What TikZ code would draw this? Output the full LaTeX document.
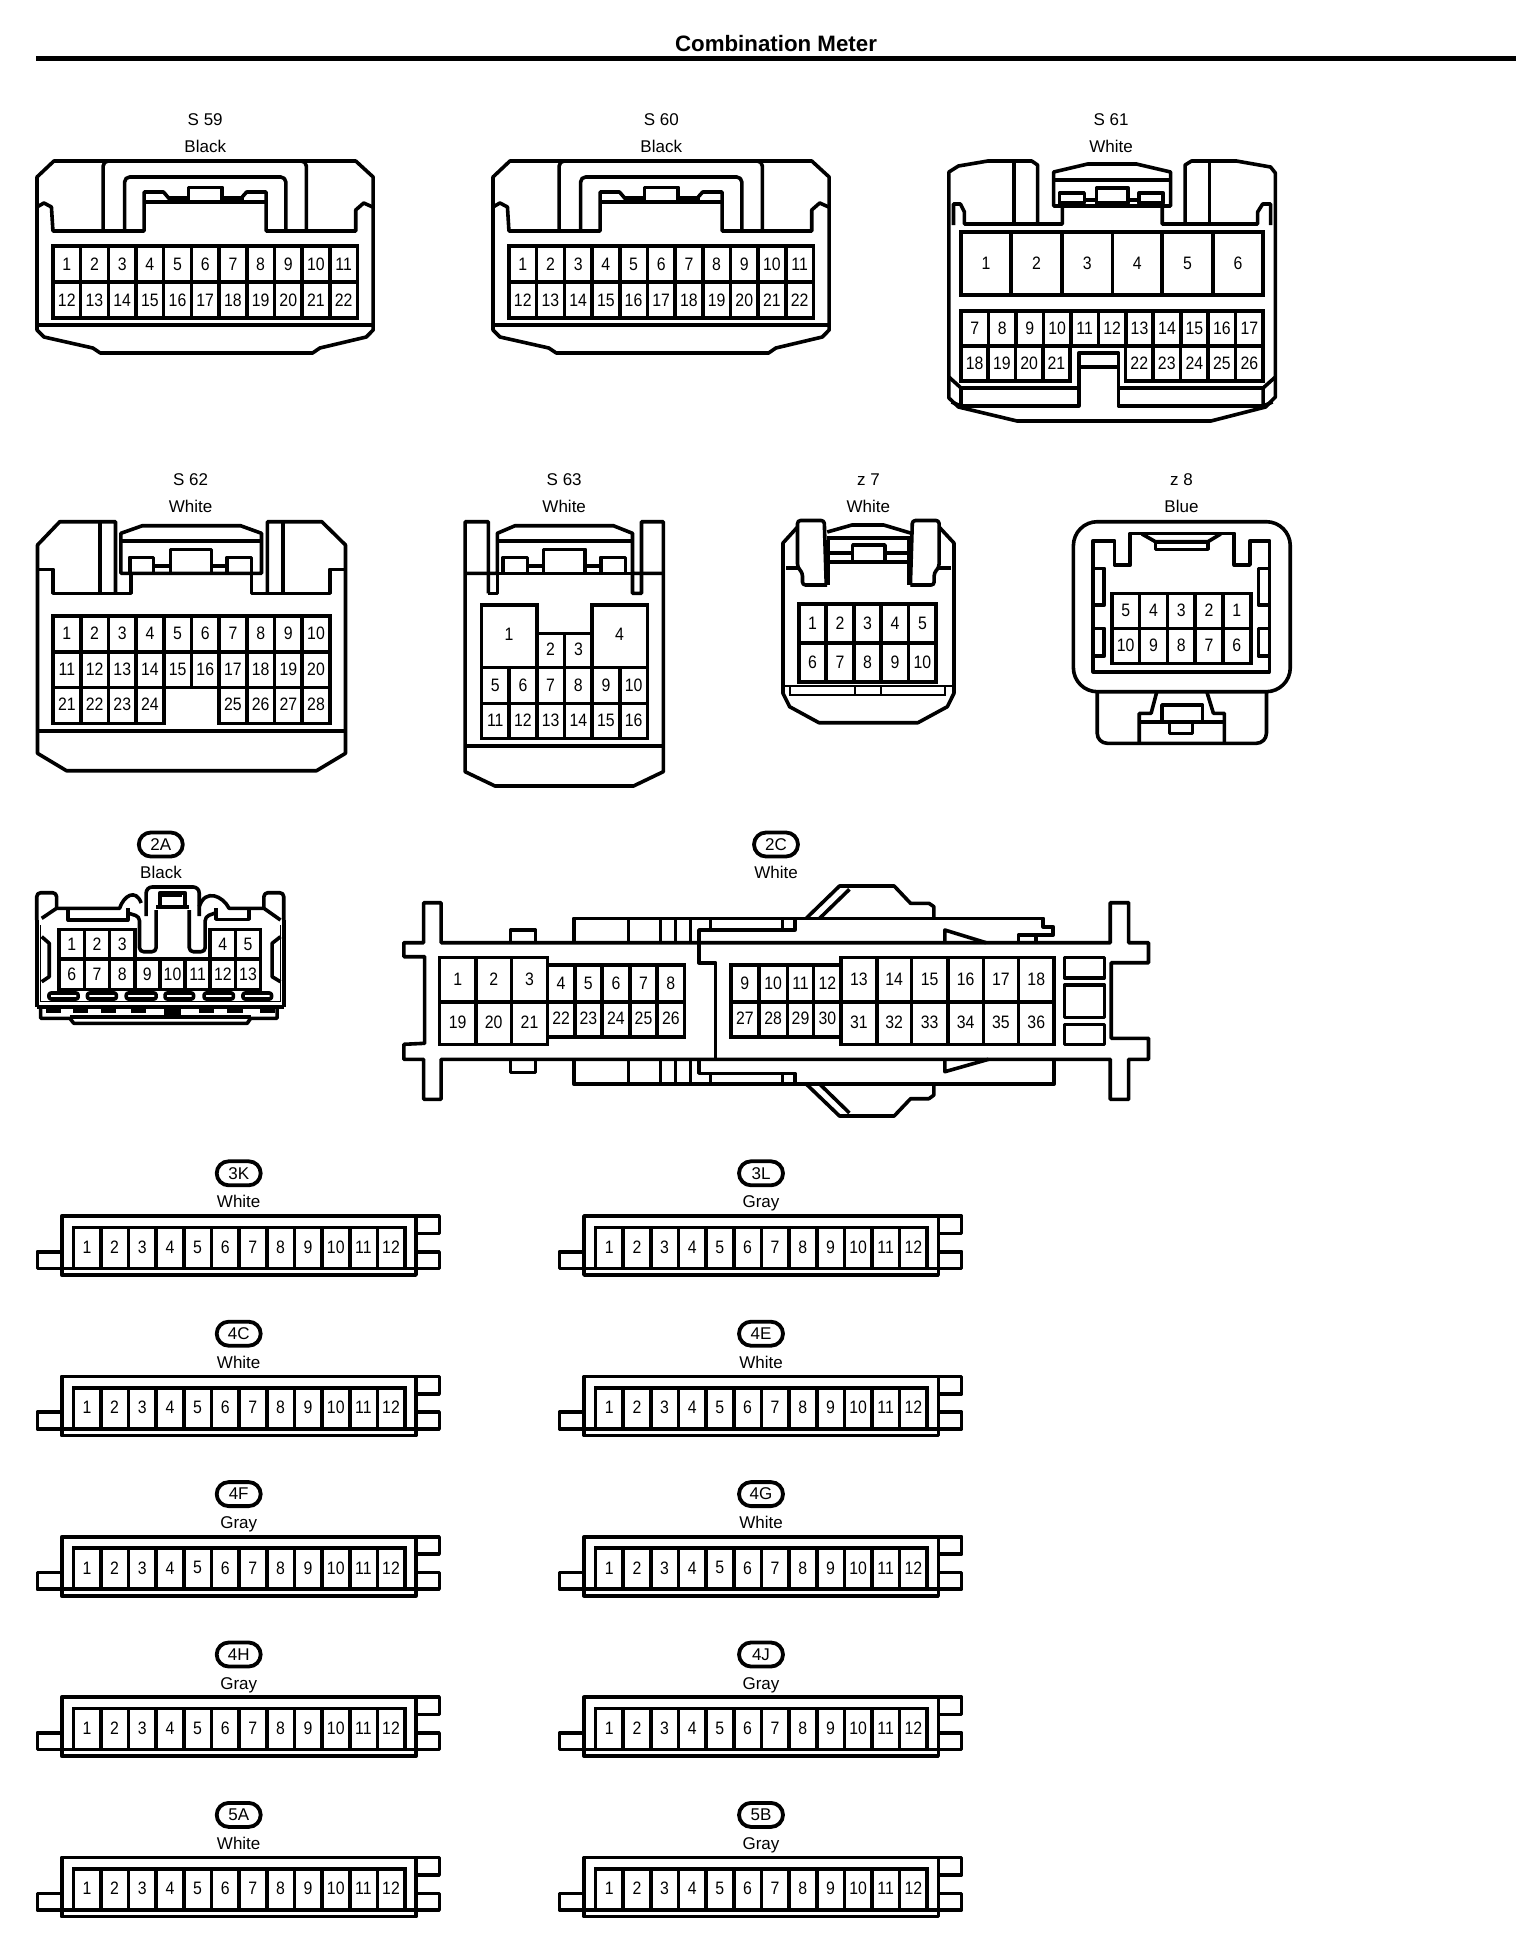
\documentclass[tikz,border=0pt]{standalone}
\usepackage{fontspec}
\setmainfont{Liberation Sans}
\newfontfamily\pinfont[FakeStretch=0.88]{Liberation Sans}
\tikzset{
  outline/.style={line width=3.6pt, line join=round},
  pincell/.style={line width=3.6pt},
  pintext/.style={font=\fontsize{18}{18}\pinfont, inner sep=0pt},
  captext/.style={font=\fontsize{17}{18}\selectfont, inner sep=0pt, text height=12.2pt, text depth=0pt},
  tagoval/.style={draw, line width=3.8pt, rounded corners=12pt, minimum width=44pt, minimum height=24pt, inner sep=0pt, font=\fontsize{17}{18}\selectfont},
  stud/.style={draw, line width=2pt, fill=black}
}
\begin{document}
\begin{tikzpicture}[x=1pt,y=-1pt]
  \useasboundingbox (0,0) rectangle (1536,1940);

  % title and rule
  \node[font=\fontsize{22.3}{24}\bfseries\selectfont, inner sep=0pt] (title) at (776,44) {Combination Meter};
  \draw[line width=5pt] (36,58.3) -- (1516,58.3);

  % S 59 and S 60
  \foreach \dx/\slab/\sid in {0/S 59/sa, 456/S 60/sb} {
    \begin{scope}[shift={({\dx+0.15},0)},xscale=0.996]
      \node[captext] (\sid name) at (205.9,119) {\slab};
      \node[captext] (\sid col) at (205.9,146) {Black};
      \draw[outline] (37,177) -- (54,161) -- (357,161) -- (374.5,177) -- (374.5,330) -- (367.6,337) -- (321,348) -- (313.7,353) -- (100.5,353) -- (93,348) -- (44,337) -- (37,330) -- cycle;
      \draw[outline] (37,325) -- (374.5,325); % lower lip
      \draw[outline] (37,207) -- (44,203) -- (51.5,207) -- (53,231) -- (144.6,231) -- (144.6,192) -- (164,192) -- (170,199) -- (170,202);
      \draw[outline] (374,207) -- (365,203) -- (357,210) -- (357,231) -- (267,231) -- (267,192) -- (247.5,192) -- (243,197) -- (243,202);
      \draw[outline] (144.6,202) -- (267,202);
      \draw[outline] (189,202) -- (189,187.5) -- (223,187.5) -- (223,202);
      \draw[outline] (170,198) -- (189,198) (223,198) -- (243,198);
      \draw[outline,rounded corners=5pt] (125,231) -- (125,177) -- (286.8,177) -- (286.8,231); % arch
      \draw[outline,rounded corners=5pt] (103.4,231) -- (103.4,161) -- (112,161);
      \draw[outline,rounded corners=5pt] (307.4,231) -- (307.4,161) -- (299,161);
      \foreach \n [count=\i from 0] in {1,...,11} {
        \draw[pincell] ({53+27.8*\i},246) rectangle +(27.8,36);
        \node[pintext] (\sid p\n) at ({66.9+27.8*\i},264) {\n};
      }
      \foreach \n [count=\i from 0] in {12,...,22} {
        \draw[pincell] ({53+27.8*\i},282) rectangle +(27.8,36);
        \node[pintext] (\sid p\n) at ({66.9+27.8*\i},300) {\n};
      }
    \end{scope}
  }

  % S 61
  \begin{scope}[shift={(5.2,0)},xscale=0.994]
  \node[captext] (scname) at (1112.6,119) {S 61};
  \node[captext] (sccol) at (1112.6,146) {White};
  \draw[outline] (1038.6,224) -- (1038.6,165) -- (1032.7,161) -- (988.6,161) -- (959,166) -- (949.4,172) -- (949.4,398) -- (959,407) -- (1018,421) -- (1213,421) -- (1268,407) -- (1277.8,397) -- (1277.8,173) -- (1273,167) -- (1238.6,161) -- (1193.5,161) -- (1187,165) -- (1187,224);
  \draw[outline] (1014.6,161) -- (1014.6,224) (1211.6,161) -- (1211.6,224);
  \draw[outline] (954,225) -- (954,204) -- (961,204) -- (965,212) -- (965,224) -- (1063.6,224) -- (1063.6,206);
  \draw[outline] (1273,225) -- (1273,204) -- (1265,204) -- (1260,212) -- (1260,224) -- (1164,224) -- (1164,206);
  \draw[outline] (1054.8,206) -- (1054.8,172) -- (1089,164) -- (1138,164) -- (1172.4,172) -- (1172.4,206) -- cycle;
  \draw[outline] (1054.8,180) -- (1172.4,180);
  \draw[outline] (1060.6,193) rectangle (1085.6,203);
  \draw[outline] (1140.5,193) rectangle (1165,203);
  \draw[outline] (1098,188) rectangle (1129.8,203);
  \draw[outline] (1085.6,200) -- (1098,200) (1129.8,200) -- (1140.5,200);
  % big pins
  \foreach \n/\xa/\xb in {1/961.6/1012, 2/1012/1063, 3/1063/1114, 4/1114/1164, 5/1164/1215, 6/1215/1265.5} {
    \draw[pincell] (\xa,232) rectangle (\xb,295);
    \node[pintext] (scp\n) at ({(\xa+\xb)/2},263) {\n};
  }
  \foreach \n [count=\i from 0] in {7,...,17} {
    \draw[pincell] ({961.6+27.63*\i},311) rectangle +(27.63,35);
    \node[pintext] (scp\n) at ({975.4+27.63*\i},328.5) {\n};
  }
  \foreach \n [count=\i from 0] in {18,...,21} {
    \draw[pincell] ({961.6+27.4*\i},346) rectangle +(27.4,35);
    \node[pintext] (scp\n) at ({975.3+27.4*\i},363.5) {\n};
  }
  \foreach \n [count=\i from 0] in {22,...,26} {
    \draw[pincell] ({1127+27.7*\i},346) rectangle +(27.7,35);
    \node[pintext] (scp\n) at ({1140.9+27.7*\i},363.5) {\n};
  }
  % key slot under the pins
  \draw[outline] (961.6,406) -- (1080,406) -- (1080,353) -- (1120,353) -- (1120,406) -- (1265.5,406);
  \draw[outline] (1080,367) -- (1120,367);
  \draw[outline] (961.6,388) -- (1080,388) (1120,388) -- (1265.5,388);
  \draw[outline] (949.4,377) -- (961.6,388) -- (961.6,406) -- (952,402);
  \draw[outline] (1277.8,377) -- (1265.5,388) -- (1265.5,406) -- (1275,402);
  \end{scope}

  % S 62
  \begin{scope}[shift={(-0.5,0)}]
  \node[captext] (sdname) at (191,479.7) {S 62};
  \node[captext] (sdcol) at (191,506.7) {White};
  \draw[outline] (116,593.3) -- (116,521.7) -- (60.3,521.7) -- (38,545) -- (38,753.3) -- (67,770.7) -- (317,770.7) -- (346,753.3) -- (346,545) -- (322.3,521.7) -- (267.9,521.7) -- (267.9,593.3);
  \draw[outline] (100.4,521.7) -- (100.4,593.3) (283.5,521.7) -- (283.5,593.3);
  \draw[outline] (38,569.3) -- (53.6,569.3) -- (53.6,593.3) -- (131.7,593.3) -- (131.7,573.3);
  \draw[outline] (346,569.3) -- (330.4,569.3) -- (330.4,593.3) -- (252,593.3) -- (252,573.3);
  \draw[outline] (38,731) -- (346,731);
  \draw[outline] (121.4,573.3) -- (121.4,533.3) -- (142.9,525.7) -- (241,525.7) -- (262,533.3) -- (262,573.3) -- cycle;
  \draw[outline] (121.4,540.7) -- (262,540.7);
  \draw[outline] (130.4,573.3) -- (130.4,557.3) -- (154,557.3) -- (154,573.3);
  \draw[outline] (227.7,573.3) -- (227.7,557.3) -- (252,557.3) -- (252,573.3);
  \draw[outline] (171,573.3) -- (171,549.3) -- (212,549.3) -- (212,573.3);
  \draw[outline] (154,566) -- (171,566) (212,566) -- (227.7,566);
  \foreach \n [count=\i from 0] in {1,...,10} {
    \draw[pincell] ({53.6+27.68*\i},616) rectangle +(27.68,35.7);
    \node[pintext] (sdp\n) at ({67.4+27.68*\i},633) {\n};
  }
  \foreach \n [count=\i from 0] in {11,...,20} {
    \draw[pincell] ({53.6+27.68*\i},651.7) rectangle +(27.68,35.6);
    \node[pintext] (sdp\n) at ({67.4+27.68*\i},669) {\n};
  }
  \foreach \n/\i in {21/0,22/1,23/2,24/3,25/6,26/7,27/8,28/9} {
    \draw[pincell] ({53.6+27.68*\i},687.3) rectangle +(27.68,36);
    \node[pintext] (sdp\n) at ({67.4+27.68*\i},704.5) {\n};
  }
  \end{scope}

  % S 63
  \begin{scope}[shift={(-0.5,0)}]
  \node[captext] (sename) at (564.7,479.7) {S 63};
  \node[captext] (secol) at (564.7,506.7) {White};
  \draw[outline] (488.8,593.3) -- (488.8,521.7) -- (465.6,521.7) -- (465.6,771.7) -- (495.5,786) -- (634,786) -- (663.8,771.7) -- (663.8,521.7) -- (642,521.7) -- (642,593.3) -- (633,593.3) -- (633,573.3);
  \draw[outline] (488.8,593.3) -- (497.8,593.3) -- (497.8,573.3);
  \draw[outline] (465.6,573.3) -- (497.8,573.3) -- (497.8,533.3) -- (515.6,525.7) -- (613.8,525.7) -- (633,533.3) -- (633,573.3) -- (663.8,573.3);
  \draw[outline] (497.8,573.3) -- (633,573.3) (497.8,540.7) -- (633,540.7);
  \draw[outline] (503.6,573.3) -- (503.6,557.3) -- (528,557.3) -- (528,573.3);
  \draw[outline] (601.3,573.3) -- (601.3,557.3) -- (625.9,557.3) -- (625.9,573.3);
  \draw[outline] (543.8,573.3) -- (543.8,549.3) -- (585.7,549.3) -- (585.7,573.3);
  \draw[outline] (528,566) -- (543.8,566) (585.7,566) -- (601.3,566);
  \draw[outline] (465.6,746) -- (663.8,746);
  \draw[pincell] (482,605) rectangle (537.3,667.3);
  \node[pintext] (sep1) at (509.5,634) {1};
  \draw[pincell] (537.3,633.3) rectangle (565,667.3);
  \node[pintext] (sep2) at (551,649) {2};
  \draw[pincell] (565,633.3) rectangle (592.7,667.3);
  \node[pintext] (sep3) at (579,649) {3};
  \draw[pincell] (592.7,605) rectangle (648,667.3);
  \node[pintext] (sep4) at (620,634) {4};
  \foreach \n [count=\i from 0] in {5,...,10} {
    \draw[pincell] ({482+27.67*\i},667.3) rectangle +(27.67,36);
    \node[pintext] (sep\n) at ({495.8+27.67*\i},685) {\n};
  }
  \foreach \n [count=\i from 0] in {11,...,16} {
    \draw[pincell] ({482+27.67*\i},703.3) rectangle +(27.67,35);
    \node[pintext] (sep\n) at ({495.8+27.67*\i},720.5) {\n};
  }
  \end{scope}

  % z 7
  \begin{scope}[shift={(7.5,0)},xscale=0.99]
  \node[captext] (zaname) at (869.6,479.7) {z 7};
  \node[captext] (zacol) at (869.6,506.7) {White};
  \draw[outline] (798,527) -- (783.3,543) -- (783.3,693.3) -- (790,706.7) -- (819.6,722.7) -- (919.6,722.7) -- (949.3,706.7) -- (956,693.3) -- (956,543) -- (941,527);
  \draw[outline,rounded corners=3pt] (828,585) -- (803,585) -- (803,573) -- (798,567) -- (798,520.5) -- (825,520.5) -- (827,585);
  \draw[outline,rounded corners=3pt] (912,585) -- (936,585) -- (936,573) -- (941,567) -- (941,520.5) -- (914,520.5) -- (912,585);
  \draw[line width=4pt] (829,540) -- (829,585) (910.5,540) -- (910.5,585);
  \draw[outline] (786.7,568) -- (798,568) (941,568) -- (953,568);
  \draw[outline] (828,532) -- (853,525) -- (885,525) -- (912,533);
  \draw[outline] (828,538) -- (912,538);
  \draw[outline] (853.7,561.7) -- (853.7,545) -- (886.3,545) -- (886.3,561.7);
  \draw[outline] (829,553) -- (853.7,553) (886.3,553) -- (910.4,553);
  \draw[outline] (829,561.7) -- (910.4,561.7);
  \foreach \n [count=\i from 0] in {1,...,5} {
    \draw[pincell] ({799.3+27.74*\i},604) rectangle +(27.74,38.7);
    \node[pintext] (zap\n) at ({813.2+27.74*\i},623) {\n};
  }
  \foreach \n [count=\i from 0] in {6,...,10} {
    \draw[pincell] ({799.3+27.74*\i},642.7) rectangle +(27.74,39);
    \node[pintext] (zap\n) at ({813.2+27.74*\i},662) {\n};
  }
  \draw[line width=2pt] (783.3,686) -- (956,686);
  \draw[line width=2pt] (790,686) rectangle (946.7,695);
  \draw[line width=2pt] (855.6,686) rectangle (882.6,695);
  \end{scope}

  % z 8
  \begin{scope}[shift={(10.8,0)},xscale=0.989]
  \node[captext] (zbname) at (1183.7,479.7) {z 8};
  \node[captext] (zbcol) at (1183.7,506.7) {Blue};
  \draw[outline,rounded corners=24pt] (1074.4,521.7) rectangle (1293.7,691.7);
  \draw[outline] (1094.4,540.7) -- (1116,540.7) -- (1116,565) -- (1131.9,565) -- (1131.9,533.3) -- (1237,533.3) -- (1237,565) -- (1253,565) -- (1253,540.7) -- (1272.6,540.7) -- (1272.6,671.7) -- (1094.4,671.7) -- cycle;
  \draw[outline] (1143.7,534) -- (1157.4,541.7) -- (1210.4,541.7) -- (1223.3,534);
  \draw[outline] (1157.4,541.7) rectangle (1210.4,549.3);
  \draw[outline] (1094.4,568.3) rectangle (1105.6,605);
  \draw[outline] (1094.4,628.3) rectangle (1105.6,656);
  \draw[outline] (1261.5,568.3) rectangle (1272.6,605);
  \draw[outline] (1261.5,628.3) rectangle (1272.6,656);
  \foreach \n [count=\i from 0] in {5,4,3,2,1} {
    \draw[pincell] ({1113.3+28.1*\i},593.3) rectangle +(28.1,35);
    \node[pintext] (zbp\n) at ({1127.3+28.1*\i},610.5) {\n};
  }
  \foreach \n [count=\i from 0] in {10,9,8,7,6} {
    \draw[pincell] ({1113.3+28.1*\i},628.3) rectangle +(28.1,35);
    \node[pintext] (zbp\n) at ({1127.3+28.1*\i},645.5) {\n};
  }
  \draw[outline,rounded corners=10pt] (1098.5,691.7) -- (1098.5,743.3) -- (1269.6,743.3) -- (1269.6,691.7);
  \draw[outline] (1158.5,692.7) -- (1153,713.3) -- (1141,713.3) -- (1141,743.3);
  \draw[outline] (1209.6,692.7) -- (1216,713.3) -- (1227,713.3) -- (1227,743.3);
  \draw[outline] (1141,721.7) -- (1227,721.7);
  \draw[outline] (1164,721.7) -- (1164,705) -- (1204.8,705) -- (1204.8,721.7);
  \draw[outline] (1171.5,721.7) -- (1171.5,733.3) -- (1194.8,733.3) -- (1194.8,721.7);
  \end{scope}

  % 2A
  \node[tagoval] (tga) at (160.8,844.5) {2A};
  \node[captext] (tgacol) at (161,872.3) {Black};
  \begin{scope}[shift={(0.2,0)},xscale=0.995]
  \draw[outline,rounded corners=4pt] (36.7,920) -- (36.7,892.7) -- (56.7,892.7) -- (56.7,908.3);
  \draw[outline,rounded corners=4pt] (285,920) -- (285,892.7) -- (265,892.7) -- (265,908.3);
  \draw[outline] (41.7,918.3) -- (56.7,908.3) -- (120,908.3) .. controls (124,896) and (136,888) .. (141.7,903);
  \draw[outline] (281.7,920) -- (265,908.3) -- (230,908.3) .. controls (224,896) and (206,888) .. (200,906.7);
  \draw[outline] (36.7,920) -- (36.7,1006.7) (285,920) -- (285,1006.7);
  \draw[line width=1.5pt] (40.7,925) -- (40.7,1001.7) -- (281.7,1001.7) -- (281.7,925);
  \draw[outline] (68.3,908.3) -- (68.3,920) -- (128.3,920) -- (128.3,908.3);
  \draw[outline] (216.7,908.3) -- (216.7,919.3) -- (250,919.3) -- (250,908.3);
  \draw[outline,rounded corners=4pt] (128.3,913) -- (140,916.7) -- (140,951.7) -- (156.7,951.7) -- (156.7,910);
  \draw[outline,rounded corners=4pt] (216,913) -- (206,916.7) -- (206,951.7) -- (190,951.7) -- (190,910);
  \draw[outline,rounded corners=6pt] (146.7,916) -- (146.7,887) -- (200,887) -- (200,916);
  \draw[outline] (156.7,906.7) -- (190,906.7);
  \draw[outline] (160.7,906.7) -- (160.7,892.7) -- (186,892.7) -- (186,906.7);
  \draw[line width=4pt] (163,895) -- (183,895);
  % side bulges
  \draw[outline] (41.7,936.7) -- (49.3,943.3) -- (49.3,976.7) -- (41.7,981.7);
  \draw[outline] (281.7,936.7) -- (273.3,943.3) -- (273.3,976.7) -- (281.7,981.7);
  \foreach \n/\i in {1/0,2/1,3/2,4/6,5/7} {
    \draw[pincell] ({59.3+25.3*\i},929.3) rectangle +(25.3,29.7);
    \node[pintext] (tgap\n) at ({72+25.3*\i},944) {\n};
  }
  \foreach \n [count=\i from 0] in {6,...,13} {
    \draw[pincell] ({59.3+25.3*\i},959) rectangle +(25.3,30.3);
    \node[pintext] (tgap\n) at ({72+25.3*\i},974.5) {\n};
  }
  \foreach \xa/\xb in {49/78.3, 87.7/116.7, 126.7/156.7, 165.7/194.3, 205/234.3, 244/272.7} {
    \draw[outline,rounded corners=2pt] (\xa,993) rectangle (\xb,999);
  }
  \foreach \xa/\xb in {46.7/60, 74/87.3, 102.3/115.7, 132.3/145.7, 200.7/214, 229.3/242.7, 261.7/275} {
    \draw[stud] (\xa,1008) rectangle (\xb,1012);
  }
  \draw[stud] (166,1008) rectangle (180.7,1015);
  \draw[outline] (36.7,1006.7) -- (285,1006.7);
  \draw[outline] (40.7,1006.7) -- (40.7,1018.3) -- (70,1018.3) -- (74,1023.3) -- (248.3,1023.3) -- (251.7,1018.3) -- (278.3,1018.3) -- (278.3,1006.7);
  \draw[outline] (70,1017) -- (251.7,1017);
  \end{scope}

  % 2C
  \node[tagoval] (tgc) at (776,844.5) {2C};
  \node[captext] (tgccol) at (776,872.3) {White};
  \begin{scope}[shift={(2.4,0)},xscale=0.9936]
  \draw[outline] (701,942.7) -- (441.5,942.7) -- (441.5,902.7) -- (424,902.7) -- (424,942.7) -- (404,942.7) -- (404,956.7) -- (425,956.7) -- (425,1043.3) -- (404,1044.3) -- (404,1059.3) -- (424,1059.3) -- (424,1099.3) -- (441.5,1099.3) -- (441.5,1059.3) -- (1115,1059.3) -- (1115,1099.3) -- (1133.5,1099.3) -- (1133.5,1059.3) -- (1153.5,1059.3) -- (1153.5,1038.3) -- (1116,1038.3) -- (1116,962.7) -- (1153.5,962.7) -- (1153.5,942.7) -- (1133.5,942.7) -- (1133.5,902.7) -- (1115,902.7) -- (1115,942.7) -- cycle;
  \draw[outline] (797.5,918.3) -- (797.5,930) -- (701,930) -- (701,962.7) -- (717.5,962.7) -- (717.5,1059.3);
  % upper housing
  \draw[outline] (575,942.7) -- (575,918.3) -- (1047.5,918.3) -- (1047.5,926.7) -- (1057.5,926.7) -- (1057.5,935) -- (1022.5,935) -- (1022.5,942.7);
  \foreach \xl in {630,662.5,677.5,692.5} {
    \draw[outline] (\xl,918.3) -- (\xl,942.7);
    \draw[outline] (\xl,1059.3) -- (\xl,1084);
  }
  \draw[outline] (712.5,918.3) -- (712.5,930) (785,918.3) -- (785,930);
  \draw[outline] (809,918.3) -- (842.5,886) -- (897.5,886) -- (914,903.3) -- (932.5,903.3) -- (937.5,906.7) -- (937.5,918.3);
  \draw[outline] (822.5,918.3) -- (852.5,889.3);
  \draw[outline] (948.5,942.7) -- (948.5,930) -- (990,942.7);
  \draw[outline] (1040,935) -- (1040,942.7);
  % lower housing
  \draw[outline] (575,1059.3) -- (575,1084) -- (1058.5,1084) -- (1058.5,1059.3);
  \draw[outline] (701,1059.3) -- (701,1073.3) -- (797.5,1073.3) -- (797.5,1084);
  \draw[outline] (712.5,1073.3) -- (712.5,1084) (785,1073.3) -- (785,1084);
  \draw[outline] (809,1084) -- (842.5,1116) -- (897.5,1116) -- (914,1098.7) -- (932.5,1098.7) -- (937.5,1095) -- (937.5,1084);
  \draw[outline] (822.5,1084) -- (852.5,1113);
  \draw[outline] (948.5,1059.3) -- (948.5,1071.7) -- (992.5,1059.3);
  % small tabs
  \draw[outline] (511.5,942.7) -- (511.5,930) -- (536.5,930) -- (536.5,942.7);
  \draw[outline] (511.5,1059.3) -- (511.5,1072.3) -- (536.5,1072.3) -- (536.5,1059.3);
  % pins
  \foreach \n/\xa/\xb in {1/440/476.5, 2/476.5/512.5, 3/512.5/548.5, 13/844/880, 14/880/915, 15/915/951.5, 16/951.5/987.5, 17/987.5/1022.5, 18/1022.5/1058.5} {
    \draw[pincell] (\xa,957.3) rectangle (\xb,1001.7);
    \node[pintext] (tgcp\n) at ({(\xa+\xb)/2},979) {\n};
  }
  \foreach \n/\xa/\xb in {19/440/476.5, 20/476.5/512.5, 21/512.5/548.5, 31/844/880, 32/880/915, 33/915/951.5, 34/951.5/987.5, 35/987.5/1022.5, 36/1022.5/1058.5} {
    \draw[pincell] (\xa,1001.7) rectangle (\xb,1044.3);
    \node[pintext] (tgcp\n) at ({(\xa+\xb)/2},1022.5) {\n};
  }
  \foreach \n/\xa/\xb in {4/548.5/576, 5/576/603.5, 6/603.5/631.5, 7/631.5/659, 8/659/686.5, 9/733/761.5, 10/761.5/790, 11/790/816.5, 12/816.5/844} {
    \draw[pincell] (\xa,965) rectangle (\xb,1001.7);
    \node[pintext] (tgcp\n) at ({(\xa+\xb)/2},983.5) {\n};
  }
  \foreach \n/\xa/\xb in {22/548.5/576, 23/576/603.5, 24/603.5/631.5, 25/631.5/659, 26/659/686.5, 27/733/761.5, 28/761.5/790, 29/790/816.5, 30/816.5/844} {
    \draw[pincell] (\xa,1001.7) rectangle (\xb,1036.7);
    \node[pintext] (tgcp\n) at ({(\xa+\xb)/2},1018.5) {\n};
  }
  \draw[outline] (1069,957.3) rectangle (1109,977.7);
  \draw[outline] (1069,985) rectangle (1109,1017.3);
  \draw[outline] (1069,1024.3) rectangle (1109,1044.3);
  \end{scope}

  % twelve pin connectors
  \foreach \dx/\dy/\tagtxt/\coltxt/\sid in {0/0/3K/White/ka, 522.3/0/3L/Gray/kb, 0/160.4/4C/White/kc, 522.3/160.4/4E/White/kd, 0/320.8/4F/Gray/ke, 522.3/320.8/4G/White/kf, 0/481.2/4H/Gray/kg, 522.3/481.2/4J/Gray/kh, 0/641.6/5A/White/ki, 522.3/641.6/5B/Gray/kj} {
    \begin{scope}[shift={(\dx,\dy)}]
      \node[tagoval] (\sid tag) at (238.7,1173.3) {\tagtxt};
      \node[captext] (\sid col) at (238.7,1201.7) {\coltxt};
      \draw[outline] (61.7,1216) rectangle (416,1275);
      \draw[outline] (416,1216) -- (439.3,1216) -- (439.3,1233.3) -- (416,1233.3);
      \draw[outline] (416,1251.7) -- (439.3,1251.7) -- (439.3,1268.3) -- (37.3,1268.3) -- (37.3,1251.7) -- (61.7,1251.7);
      \foreach \n [count=\i from 0] in {1,...,12} {
        \draw[pincell] ({73.3+27.64*\i},1227.3) rectangle +(27.64,41);
        \node[pintext] (\sid p\n) at ({87+27.64*\i},1247) {\n};
      }
    \end{scope}
  }
\end{tikzpicture}
\end{document}
